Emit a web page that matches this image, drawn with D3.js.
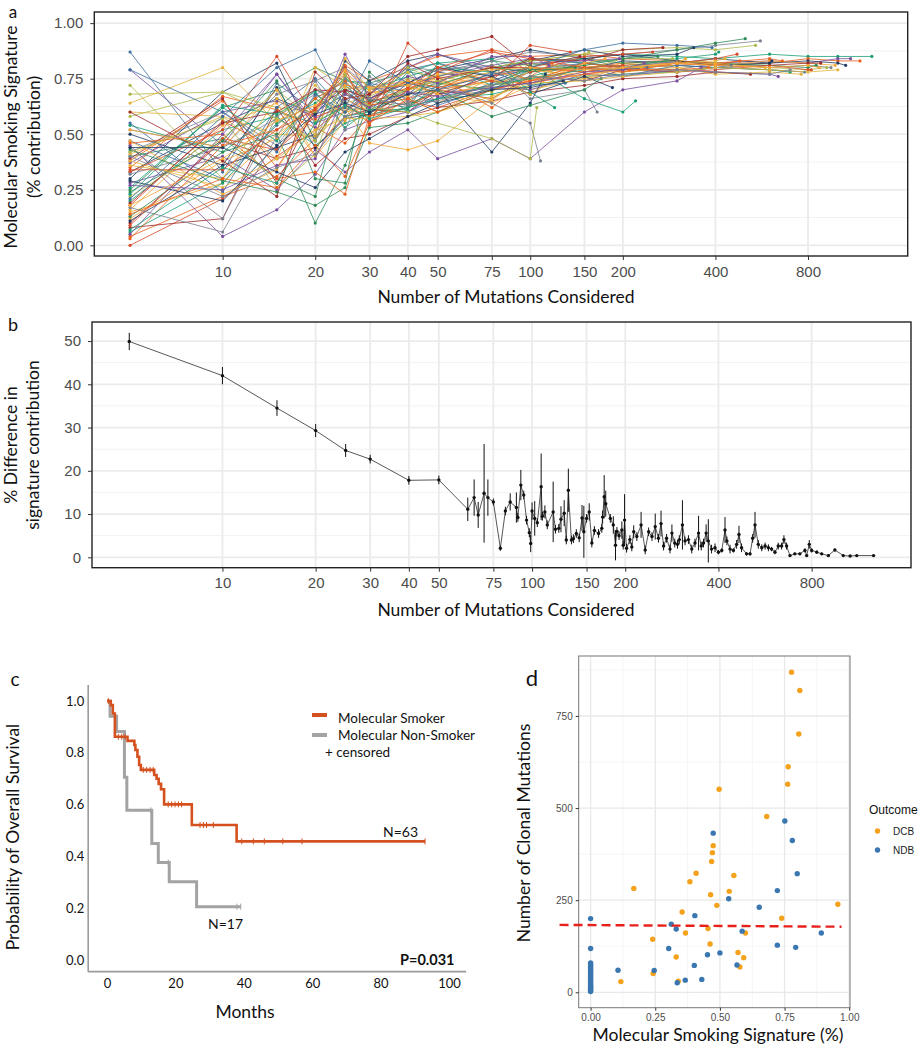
<!DOCTYPE html>
<html><head><meta charset="utf-8">
<script src="https://cdn.jsdelivr.net/npm/d3@7"></script>
<style>body{margin:0;background:#fff}svg{display:block}</style>
</head><body>
<script>
// ================= DATA =================
// Panel a: subsampling steps, per-sample total mutation count, per-sample signature % at each step (last value at total)
const aSteps=[5,10,15,20,25,30,40,50,75,100,150,200,300,400,600,800,1000];
const aTotals=[1290,1180,1100,1060,980,950,920,880,850,820,780,760,700,660,640,610,580,560,540,520,500,470,450,430,410,380,360,340,320,300,290,270,260,250,240,230,220,210,195,185,175,165,155,145,140,135,130,125,120,118,115,112,110,108,105,102,170,200,390,1000,150,480,235,128,870,700];
const aValues=[
[54,42,60,55,72,62,70,74,80,83,84,86,85,84,86,85,85,85],
[4,22,31,48,66,60,64,68,72,78,80,82,83,81,82,84,83,83],
[79,45,77,55,60,70,72,76,81,84,82,80,81,82,83,82,84,84],
[33,55,66,59,73,65,68,78,74,80,79,83,82,84,82,83,82,81],
[15,28,50,62,78,68,74,71,77,80,78,82,80,81,83,82,81],
[42,60,45,67,70,72,66,74,80,78,84,80,79,82,80,81,80],
[72,30,58,70,64,67,75,73,78,82,80,81,83,82,80,79,80],
[10,47,39,44,58,61,60,70,66,76,74,79,78,80,81,82,82],
[25,62,70,80,74,73,78,76,83,81,84,82,83,82,81,80,81],
[0,21,40,52,63,58,65,62,70,74,77,80,78,79,81,79,79],
[87,33,73,60,68,64,79,82,76,79,82,80,81,80,79,78],
[60,58,50,49,60,62,71,69,74,70,75,78,80,77,78,77],
[20,52,58,45,55,59,62,66,68,72,76,77,78,80,79,78],
[38,65,35,60,81,74,80,85,88,85,86,84,83,82,84,83],
[45,4,16,32,52,56,60,68,71,70,77,76,79,78,77,76],
[30,69,82,47,70,66,73,79,84,88,84,86,83,81,82,83],
[12,38,48,66,60,69,70,72,78,75,78,80,81,82,80],
[52,44,68,74,80,71,81,78,83,87,85,86,88,90,92],
[68,69,62,60,76,64,70,74,80,83,86,88,89,88,90],
[8,12,62,36,48,50,58,62,65,69,72,75,76,78,77],
[40,48,30,22,70,61,68,73,70,76,82,84,88,91,93],
[18,56,43,58,62,65,74,71,76,80,78,81,82,84,86],
[47,30,54,70,65,73,69,64,73,79,80,76,81,80,81],
[64,80,55,72,60,63,66,60,72,75,81,78,82,83,84],
[6,28,55,64,75,70,76,80,78,84,82,80,84,86,87],
[35,67,61,53,46,58,62,70,74,73,77,79,79,80],
[28,40,25,43,33,42,52,39,48,39,60,70,74,80],
[50,36,44,50,83,74,83,86,78,83,88,85,86,89],
[16,54,64,40,56,69,67,76,72,80,75,80,82,84],
[44,12,58,68,73,60,64,66,70,78,82,80,83],
[22,48,70,56,62,58,71,74,69,82,79,84,84],
[39,66,28,62,70,66,74,68,76,84,83,88,89],
[13,42,50,10,36,65,62,72,80,78,81,84,85],
[33,52,85,57,64,55,70,78,88,78,85,86,87],
[55,24,62,75,60,68,80,63,71,73,80,79,80],
[41,58,39,80,71,70,73,74,65,79,76,80,80],
[26,62,47,66,58,60,78,82,72,80,66,60,65],
[3,45,52,66,74,63,66,70,81,74,82,80,79],
[37,60,65,58,80,68,80,86,80,82,83,84],
[11,36,71,44,57,59,73,80,76,68,76,71],
[47,23,34,62,72,71,74,68,64,72,82,84],
[32,44,57,48,75,66,63,79,81,66,70,60],
[58,69,57,47,68,63,80,74,80,83,86,87],
[19,55,60,70,69,62,82,75,80,80,85],
[43,29,24,18,26,53,55,60,70,79,80],
[9,48,43,62,77,64,71,80,74,90,87],
[79,60,42,68,60,73,60,66,78,72,73],
[36,30,66,50,84,70,78,64,75,68,76],
[23,63,59,69,53,61,61,82,84,69,62],
[46,50,30,33,23,58,70,76,62,76,82],
[5,50,77,53,86,66,76,73,85,85,81],
[29,20,45,59,64,60,68,70,42,64,77],
[52,44,70,40,62,46,43,47,66,75,74],
[17,6,49,74,52,76,65,72,64,55,38],
[42,57,26,41,77,62,60,55,48,39,62],
[60,38,22,78,66,68,85,88,94,80,84],
[24,47,74,30,28,78,63,70,58,63,70,75],
[34,34,52,61,80,54,91,80,87,84,80,81],
[21,58,80,88,62,83,73,70,77,80,88,91,90,89],
[38,26,39,52,57,57,58,60,67,73,74,76,78,80,79,78,79],
[7,35,28,55,63,57,62,66,72,75,79],
[14,30,26,45,31,55,66,60,70,74,80,78,82,81,83],
[27,25,36,39,68,62,69,67,71,73,78,79,82],
[44,44,33,26,42,48,58,64,70,71,74],
[18,39,56,63,79,71,72,77,79,80,79,80,82,81,80,81,80],
[40,22,35,41,58,66,63,65,72,76,74,77,79,78,77,79]
];
const mutTicks=[10,20,30,40,50,75,100,150,200,400,800];
const aYTicks=[0,0.25,0.5,0.75,1];

// Panel b: mean % difference and error half-width per number of mutations
const bX=[5,10,15,20,25,30,40,50,62,65, 67,70,72,75,79,82,85,89,90,92, 94,96,98,99,100,102,104,107,108,110,
 112,117,119,122,124,127,129,131,134,136, 139,142,145,147,150,153,156,159,164,168, 169,171,173,179,183,186,188,191,195,197,
 199,202,207,210,213,218,225,232,238,244, 250,256,261,266,272,279,283,289,295,299, 306,312,320,328,336,345,352,358,365,371,
 380,390,400,410,420,426,436,447,458,466, 475,493,506,516,525,538,552,566,580,594, 609,624,640,651,664,681,706,733,761,771,
 786,800,831,862,906,951,1012,1065,1119,1268];
const bY=[49.9,42,34.5,29.3,24.7,22.7,17.8,17.9,11.1,13.8, 9.8,14.8,13.8,12.8,2.1,10.7,12.8,11.5,9.2,16.7, 14.4,8.6,5.7,3.2,10.7,9.0,8.0,16.3,9.5,10.5,
 7.5,10.5,6.5,6.7,8.8,10.2,4,15.5,4,4.3, 5.5,4.5,9.1,5.9,9,10.5,3.3,6.2,5.5,6.7, 9.3,14,12.4,9,7.5,2.8,6,5,6.3,2.8,
 8.6,2.1,4.1,2.4,5.9,4.8,7.5,1.7,5.9,4.8, 7.1,4.4,7.8,2.6,4.4,1.9,5.6,3.3,3.0,4.1, 7.5,3.8,4.1,1.9,3.3,5.6,2.6,3.3,5.6,3.8,
 1.9,2.2,1.2,1.6,6.3,3.8,1.9,1.6,3.0,5.3, 2.2,0.8,0.8,4.4,7.5,3.0,2.2,2.6,2.2,1.9, 1.2,2.6,2.6,4.1,2.6,0.4,0.8,0.8,1.6,0.4,
 3.0,1.6,1.2,0.8,0.4,1.7,0.4,0.3,0.4,0.4];
const bE=[2,2,1.8,1.5,1.5,1,1,1,2.7,4.2, 3,11.4,4.2,0.8,0.6,1,2,3.5,1,3.5, 1,1,1,2,2,4,1,7.7,1,1.5,
 1,7,1,1,3,3,1,5,1,1, 1,1,3,6,1,2,1,1,1,1, 1.5,5,3,1,2,3.5,1,1,2,1,
 6,1,1,1,1.5,1,3,1,1,1, 3,1,3,1,1,1,2,1,1,1, 5.7,1,1,1,1,4,1,1,2,5,
 1,1,0.5,0.5,3,1,1,0.5,1,2, 1,0.4,0.4,1,3,1,0.8,0.8,0.8,0.5, 0.5,0.8,0.8,1,0.8,0.3,0.3,0.3,0.5,0.3,
 1,0.5,0.4,0.3,0.3,0.3,0.2,0.2,0.2,0.2];
const bYTicks=[0,10,20,30,40,50];

// Panel c: Kaplan-Meier steps
const smokerT=[0,1.1,1.7,2.3,6.0,8.0,8.3,8.9,9.4,9.9,13.8,14.5,15.1,15.8,16.7,24.8,37.9];
const smokerS=[1.0,0.984,0.952,0.862,0.846,0.830,0.811,0.785,0.753,0.734,0.714,0.700,0.680,0.659,0.601,0.521,0.458];
const smokerEnd=93;
const smokerCens=[0.4,3.3,4.3,5.3,10.6,11.6,12.6,13.5,17.9,18.9,19.9,20.9,21.8,27.2,28.2,29.1,31.1,39.4,42.8,46,51.4,57,93];
const nonT=[0,0.9,2.8,5.1,5.8,13.1,15.0,18.2,26.2];
const nonS=[1.0,0.941,0.882,0.706,0.578,0.450,0.376,0.302,0.206];
const nonEnd=39.1;
const nonCens=[12.8,17.9,38.0,39.1];
const cXTicks=[0,20,40,60,80,100];
const cYTicks=[0,0.2,0.4,0.6,0.8,1.0];

// Panel d: scatter
const dcbX=[0.777,0.809,0.805,0.764,0.762,0.497,0.681,0.474,0.471,0.468,0.408,0.554,0.384,0.167,0.536,0.464,0.488,0.956,0.354,0.739,0.454,0.367,0.599,0.240,0.462,0.570,0.331,0.592,0.577,0.242,0.117,0.339];
const dcbY=[869,819,701,612,565,551,477,398,379,355,323,317,300,282,274,265,236,239,218,201,173,161,161,144,131,108,96,94,69,51,29,30];
const ndbX=[0.751,0.474,0.780,0.799,0.722,0.534,0.652,0.403,0,0.312,0.331,0.586,0.892,0.722,0.793,0,0.302,0.500,0.452,0.401,0.566,0.106,0.246,0.366,0.430,0.335,
 0,0,0,0,0,0,0,0,0,0,0,0,0,0,0,0,0,0,0,0,0,0];
const ndbY=[465,432,412,322,276,254,231,208,200,185,172,166,161,128,122,119,119,107,102,73,74,60,59,33,35,26,
 2,5,8,11,14,17,20,24,28,32,36,40,44,48,52,56,60,64,68,72,76,80];
const thrX=[-0.12,0.97], thrY=[183,178];
const dXTicks=[0,0.25,0.5,0.75,1], dYTicks=[0,250,500,750];

// ================= DRAW =================
const TF='Lato, "Open Sans", sans-serif';
const NF='"Liberation Sans", Arial, sans-serif';
const svg=d3.select('body').append('svg').attr('width',920).attr('height',1050);
svg.append('rect').attr('width',920).attr('height',1050).attr('fill','#fff');
const palette=['#1B9E77','#E8601C','#7B4FA0','#1F3B63','#F4A737','#7A8290','#AEB84A','#9E2A2B','#2E8B57','#D94A2A','#3C6E9F','#E3B23C'];

function hline(g,vals,y,x0,x1,col,w){g.selectAll(null).data(vals).join('line').attr('x1',x0).attr('x2',x1).attr('y1',d=>y(d)).attr('y2',d=>y(d)).attr('stroke',col).attr('stroke-width',w);}
function vline(g,vals,x,y0,y1,col,w){g.selectAll(null).data(vals).join('line').attr('y1',y0).attr('y2',y1).attr('x1',d=>x(d)).attr('x2',d=>x(d)).attr('stroke',col).attr('stroke-width',w);}
function styleAxis(g,font,size,col){g.select('.domain').remove();g.selectAll('.tick line').attr('stroke','#333').attr('stroke-width',1);g.selectAll('text').attr('font-family',font).attr('font-size',size).attr('fill',col);}

function ggPanel(x,y,yTicks,yMinor,yFmt){
  const [x0,x1]=x.range(),[yb,yt]=y.range();
  const g=svg.append('g');
  hline(g,yMinor,y,x0,x1,'#F2F2F2',1);
  hline(g,yTicks,y,x0,x1,'#EBEBEB',1.8);
  vline(g,mutTicks,x,yb,yt,'#EBEBEB',1.8);
  const data=svg.append('g');
  const top=svg.append('g');
  top.append('rect').attr('x',x0).attr('y',yt).attr('width',x1-x0).attr('height',yb-yt).attr('fill','none').attr('stroke','#222').attr('stroke-width',1.4);
  top.append('g').attr('transform',`translate(0,${yb})`).call(d3.axisBottom(x).tickValues(mutTicks).tickFormat(d3.format('d')).tickSize(4).tickPadding(6)).call(a=>styleAxis(a,NF,15,'#4D4D4D'));
  top.append('g').attr('transform',`translate(${x0},0)`).call(d3.axisLeft(y).tickValues(yTicks).tickFormat(yFmt).tickSize(4).tickPadding(7)).call(a=>styleAxis(a,NF,15,'#4D4D4D'));
  return data;
}
function label(txt,x,y,opt={}){
  const t=svg.append('text').attr('x',x).attr('y',y).text(txt).attr('font-family',opt.font||TF).attr('font-size',opt.size||17.5).attr('fill',opt.fill||'#111').attr('text-anchor',opt.anchor||'start');
  if(opt.rot) t.attr('transform',`rotate(-90,${x},${y})`);
  if(opt.bold) t.attr('font-weight','bold');
  return t;
}

// ---- Panel a
const ax=d3.scaleLog().domain([3.826,1687]).range([94.3,907.7]);
const ay=d3.scaleLinear().domain([-0.048,1.05]).range([256,12]);
const aG=ggPanel(ax,ay,aYTicks,[0.125,0.375,0.625,0.875],d3.format('.2f'));
const aLine=d3.line().x(d=>ax(d[0])).y(d=>ay(d[1]));
aValues.forEach((vals,i)=>{
  const pts=vals.map((v,j)=>[j<vals.length-1?aSteps[j]:aTotals[i],v/100]);
  const c=palette[i%palette.length];
  aG.append('path').attr('d',aLine(pts)).attr('fill','none').attr('stroke',c).attr('stroke-width',0.9).attr('opacity',0.9);
  aG.selectAll(null).data(pts).join('circle').attr('cx',d=>ax(d[0])).attr('cy',d=>ay(d[1])).attr('r',1.6).attr('fill',c);
});
label('a',13,18,{size:17,anchor:'middle'});
label('Molecular Smoking Signature',17,137,{rot:true,anchor:'middle'});
label('(% contribution)',39.5,137,{rot:true,anchor:'middle'});
label('Number of Mutations Considered',506,303,{anchor:'middle'});

// ---- Panel b
const bx=d3.scaleLog().domain([3.79,1675]).range([92,911]);
const by=d3.scaleLinear().domain([-2.4,54.4]).range([567.7,322]);
const bG=ggPanel(bx,by,bYTicks,[5,15,25,35,45],d3.format('d'));
const bPts=bX.map((x,i)=>({x,y:bY[i],e:bE[i]}));
bG.append('path').attr('d',d3.line().x(d=>bx(d.x)).y(d=>by(d.y))(bPts)).attr('fill','none').attr('stroke','#444').attr('stroke-width',0.9);
bG.selectAll(null).data(bPts).join('line').attr('x1',d=>bx(d.x)).attr('x2',d=>bx(d.x)).attr('y1',d=>by(d.y-d.e)).attr('y2',d=>by(d.y+d.e)).attr('stroke','#111').attr('stroke-width',1);
bG.selectAll(null).data(bPts).join('circle').attr('cx',d=>bx(d.x)).attr('cy',d=>by(d.y)).attr('r',1.7).attr('fill','#111');
label('b',13,331,{size:18,anchor:'middle'});
label('% Difference in',17,445,{rot:true,anchor:'middle'});
label('signature contribution',39,445,{rot:true,anchor:'middle'});
label('Number of Mutations Considered',506,616,{anchor:'middle'});

// ---- Panel c
const kx=d3.scaleLinear().domain([0,100]).range([107,449]);
const ky=d3.scaleLinear().domain([0,1]).range([960,701]);
const cG=svg.append('g');
cG.append('line').attr('x1',kx(-5.5)).attr('x2',kx(105)).attr('y1',ky(-0.045)).attr('y2',ky(-0.045)).attr('stroke','#9A9A9A').attr('stroke-width',1.6);
cG.append('line').attr('x1',kx(-5.5)).attr('x2',kx(-5.5)).attr('y1',ky(-0.045)).attr('y2',ky(1.062)).attr('stroke','#9A9A9A').attr('stroke-width',1.6);
cG.append('g').attr('transform',`translate(0,${ky(-0.045)})`).call(d3.axisBottom(kx).tickValues(cXTicks).tickSize(0).tickPadding(7)).call(a=>styleAxis(a,TF,13,'#111'));
cG.append('g').attr('transform',`translate(${kx(-5.5)},0)`).call(d3.axisLeft(ky).tickValues(cYTicks).tickFormat(d3.format('.1f')).tickSize(0).tickPadding(4)).call(a=>styleAxis(a,TF,13,'#111'));
const kLine=d3.line().x(d=>kx(d[0])).y(d=>ky(d[1])).curve(d3.curveStepAfter);
function kmPts(T,S,end){const p=T.map((t,i)=>[t,S[i]]);p.push([end,S[S.length-1]]);return p;}
function survAt(T,S,t){let s=S[0];T.forEach((tt,i)=>{if(tt<=t)s=S[i];});return s;}
const redC='#D5501F', grayC='#A3A3A3';
cG.append('path').attr('d',kLine(kmPts(nonT,nonS,nonEnd))).attr('fill','none').attr('stroke',grayC).attr('stroke-width',3);
cG.selectAll(null).data(nonCens).join('line').attr('x1',d=>kx(d)).attr('x2',d=>kx(d)).attr('y1',d=>ky(survAt(nonT,nonS,d))-3).attr('y2',d=>ky(survAt(nonT,nonS,d))+3).attr('stroke',grayC).attr('stroke-width',1);
cG.append('path').attr('d',kLine(kmPts(smokerT,smokerS,smokerEnd))).attr('fill','none').attr('stroke',redC).attr('stroke-width',2.6);
cG.selectAll(null).data(smokerCens).join('line').attr('x1',d=>kx(d)).attr('x2',d=>kx(d)).attr('y1',d=>ky(survAt(smokerT,smokerS,d))-3).attr('y2',d=>ky(survAt(smokerT,smokerS,d))+3).attr('stroke',redC).attr('stroke-width',1);
// legend
cG.append('line').attr('x1',312).attr('x2',327).attr('y1',715).attr('y2',715).attr('stroke',redC).attr('stroke-width',4);
cG.append('line').attr('x1',312).attr('x2',327).attr('y1',735).attr('y2',735).attr('stroke',grayC).attr('stroke-width',4);
label('Molecular Smoker',338,723,{size:13.5});
label('Molecular Non-Smoker',338,740,{size:13.5});
label('+ censored',325,757,{size:13.5});
label('N=63',383,837,{size:14});
label('N=17',208,929,{size:14});
label('P=0.031',400,965,{size:14.5,bold:true});
label('c',15,686,{size:19,anchor:'middle'});
label('Probability of Overall Survival',19,837,{rot:true,anchor:'middle'});
label('Months',245,1018,{anchor:'middle'});

// ---- Panel d
const dx=d3.scaleLinear().domain([-0.046,1.003]).range([578.7,850]);
const dy=d3.scaleLinear().domain([-41.8,912.8]).range([1007.7,656]);
const dG=svg.append('g');
vline(dG,[0.125,0.375,0.625,0.875],dx,1007.7,656,'#F3F3F3',0.8);
hline(dG,[125,375,625,875],dy,578.7,850,'#F3F3F3',0.8);
vline(dG,dXTicks,dx,1007.7,656,'#E8E8E8',1.3);
hline(dG,dYTicks,dy,578.7,850,'#E8E8E8',1.3);
dG.append('rect').attr('x',578.7).attr('y',656).attr('width',850-578.7).attr('height',1007.7-656).attr('fill','none').attr('stroke','#777').attr('stroke-width',1);
dG.append('g').attr('transform','translate(0,1007.7)').call(d3.axisBottom(dx).tickValues(dXTicks).tickFormat(d3.format('.2f')).tickSize(3).tickPadding(3)).call(a=>styleAxis(a,NF,10,'#4D4D4D'));
dG.append('g').attr('transform','translate(578.7,0)').call(d3.axisLeft(dy).tickValues(dYTicks).tickSize(3).tickPadding(3)).call(a=>styleAxis(a,NF,10,'#4D4D4D'));
const dcbC='#F4A11B', ndbC='#3A77B0';
dG.selectAll(null).data(dcbX.map((x,i)=>[x,dcbY[i]])).join('circle').attr('cx',d=>dx(d[0])).attr('cy',d=>dy(d[1])).attr('r',2.7).attr('fill',dcbC);
dG.selectAll(null).data(ndbX.map((x,i)=>[x,ndbY[i]])).join('circle').attr('cx',d=>dx(d[0])).attr('cy',d=>dy(d[1])).attr('r',2.7).attr('fill',ndbC);
dG.append('line').attr('x1',dx(thrX[0])).attr('x2',dx(thrX[1])).attr('y1',dy(thrY[0])).attr('y2',dy(thrY[1])).attr('stroke','#E8201C').attr('stroke-width',2.4).attr('stroke-dasharray','9,5');
label('d',532,686,{size:22,anchor:'middle'});
label('Number of Clonal Mutations',530,833,{rot:true,anchor:'middle'});
label('Molecular Smoking Signature (%)',718,1041,{anchor:'middle'});
label('Outcome',869,814,{font:NF,size:12});
dG.append('circle').attr('cx',877.5).attr('cy',831).attr('r',2.7).attr('fill',dcbC);
dG.append('circle').attr('cx',877.5).attr('cy',850).attr('r',2.7).attr('fill',ndbC);
label('DCB',893,834.5,{font:NF,size:10,fill:'#222'});
label('NDB',893,853.5,{font:NF,size:10,fill:'#222'});
</script>
</body></html>
